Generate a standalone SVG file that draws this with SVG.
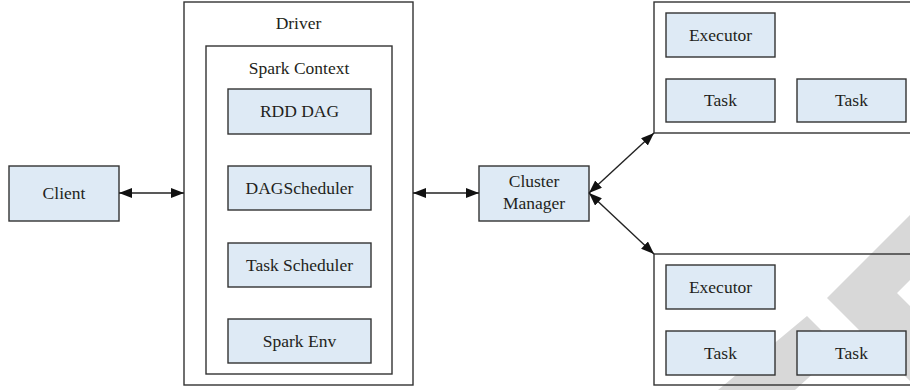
<svg xmlns="http://www.w3.org/2000/svg" width="910" height="390" viewBox="0 0 910 390">
<defs>
<style>
.box{fill:#deeaf5;stroke:#333;stroke-width:1.4}
.frame{fill:none;stroke:#333;stroke-width:1.4}
.t{font-family:"Liberation Serif","Times New Roman",serif;font-size:17.5px;fill:#231f20;text-anchor:middle}
.c{stroke:#222;stroke-width:1.4;fill:none;marker-start:url(#ah);marker-end:url(#ah)}
.wm{fill:#d8d8d8}
</style>
<marker id="ah" markerUnits="userSpaceOnUse" markerWidth="13" markerHeight="10" refX="13" refY="5" orient="auto-start-reverse">
<path d="M0,0 L13,5 L0,10 z" fill="#111"/>
</marker>
</defs>
<rect width="910" height="390" fill="#fff"/>
<g id="watermark">
<polygon class="wm" points="718,390 807,316 840,349 795,390"/>
<polygon class="wm" points="827,298 910,215 910,280 897,293 910,306 910,381"/>
</g>
<g id="client">
<rect class="box" x="9" y="166" width="110" height="55"/>
<text class="t" x="64" y="199">Client</text>
</g>
<g id="driver">
<rect class="frame" x="184" y="2" width="229" height="383"/>
<text class="t" x="298.5" y="29">Driver</text>
</g>
<g id="spark-context">
<rect class="frame" x="206" y="46" width="186" height="328"/>
<text class="t" x="299" y="74">Spark Context</text>
</g>
<g id="rdd-dag">
<rect class="box" x="228" y="89" width="143" height="45"/>
<text class="t" x="299.5" y="117">RDD DAG</text>
</g>
<g id="dag-scheduler">
<rect class="box" x="228" y="166" width="143" height="44"/>
<text class="t" x="299.5" y="194">DAGScheduler</text>
</g>
<g id="task-scheduler">
<rect class="box" x="228" y="243" width="143" height="44"/>
<text class="t" x="299.5" y="271">Task Scheduler</text>
</g>
<g id="spark-env">
<rect class="box" x="228" y="319" width="143" height="44"/>
<text class="t" x="299.5" y="347">Spark Env</text>
</g>
<g id="cluster-manager">
<rect class="box" x="479" y="166" width="110" height="55"/>
<text class="t" x="534" y="187">Cluster</text>
<text class="t" x="534" y="209">Manager</text>
</g>
<g id="worker-1">
<rect class="frame" x="654" y="2" width="262" height="131"/>
</g>
<g id="executor-1">
<rect class="box" x="666" y="13" width="109" height="44"/>
<text class="t" x="720.5" y="41">Executor</text>
</g>
<g id="task-1a">
<rect class="box" x="666" y="79" width="109" height="43"/>
<text class="t" x="720.5" y="106">Task</text>
</g>
<g id="task-1b">
<rect class="box" x="797" y="79" width="109" height="43"/>
<text class="t" x="851.5" y="106">Task</text>
</g>
<g id="worker-2">
<rect class="frame" x="654" y="254" width="262" height="131"/>
</g>
<g id="executor-2">
<rect class="box" x="666" y="265" width="109" height="44"/>
<text class="t" x="720.5" y="293">Executor</text>
</g>
<g id="task-2a">
<rect class="box" x="666" y="331" width="109" height="44"/>
<text class="t" x="720.5" y="359">Task</text>
</g>
<g id="task-2b">
<rect class="box" x="797" y="331" width="109" height="44"/>
<text class="t" x="851.5" y="359">Task</text>
</g>
<g id="connectors">
<line class="c" x1="119" y1="193" x2="184" y2="193"/>
<line class="c" x1="413" y1="193" x2="479" y2="193"/>
<line class="c" x1="589" y1="193" x2="654" y2="133"/>
<line class="c" x1="589" y1="193" x2="654" y2="254"/>
</g>
</svg>
